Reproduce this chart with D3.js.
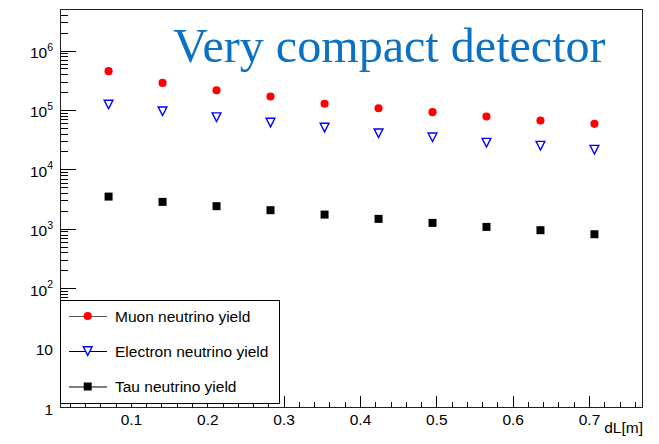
<!DOCTYPE html>
<html><head><meta charset="utf-8">
<script src="https://cdn.jsdelivr.net/npm/d3@7"></script>
<style>body{margin:0;background:#fff} svg{display:block}</style>
</head><body><svg id="c" width="659" height="444"></svg>
<script>
// ---- data ----
const dL = [0.0707,0.1414,0.2121,0.2828,0.3536,0.4243,0.4950,0.5657,0.6364,0.7071];
const muon = [450000,285000,215000,168000,127000,107000,91800,77400,66400,58300];
const electron = [124000,95500,75700,61400,50600,40700,34800,28200,25100,21500];
const tau = [3480,2835,2400,2055,1734,1466,1255,1075,946,809];
const seriesNames = ["Muon neutrino yield","Electron neutrino yield","Tau neutrino yield"];
const xTicks = [0.1,0.2,0.3,0.4,0.5,0.6,0.7];
const yTicks = [1,10,100,1e3,1e4,1e5,1e6];
const yLabelBase = ["1","10","10","10","10","10","10"];
const yLabelExp = ["","","2","3","4","5","6"];
const title = "Very compact detector";
const xTitle = "dL[m]";

// ---- layout ----
const L=60, R=643, T=9, B=407;
const svg = d3.select("#c");
const x = d3.scaleLinear().domain([0.00707,0.7707]).range([L,R]);
const y = d3.scaleLog().domain([1,5e6]).range([B,T]);
const font = "'Liberation Sans', Arial, Helvetica, sans-serif";

// minor ticks
const yMinor = [];
for (let d=0; d<7; d++) for (let m=2; m<10; m++){ const v=m*Math.pow(10,d); if (v<=5e6) yMinor.push(v); }
const xMinor = d3.range(0,39).map(i=>+(i*0.02).toFixed(2)).filter(v=>v>0.00707 && Math.round(v*100)%10!==0);

// y axis
const gy = svg.append("g").attr("transform",`translate(${L},0)`);
gy.call(d3.axisLeft(y).tickValues(yMinor).tickSize(-8).tickSizeOuter(0).tickFormat(""));
const gyM = svg.append("g").attr("transform",`translate(${L},0)`);
gyM.call(d3.axisLeft(y).tickValues(yTicks).tickSize(-16).tickSizeOuter(0).tickPadding(7).tickFormat(""));
gyM.selectAll(".tick text").each(function(d,i){
  const t=d3.select(this).attr("font-family",font).attr("font-size",15.5).attr("fill","#000").attr("dy",null).attr("y",7);
  t.append("tspan").text(yLabelBase[i]);
  if (yLabelExp[i]) t.append("tspan").attr("font-size",10.5).attr("dy",-7.5).text(yLabelExp[i]);
});

// x axis
const gx = svg.append("g").attr("transform",`translate(0,${B})`);
gx.call(d3.axisBottom(x).tickValues(xMinor).tickSize(-5.5).tickSizeOuter(0).tickFormat(""));
const gxM = svg.append("g").attr("transform",`translate(0,${B})`);
gxM.call(d3.axisBottom(x).tickValues(xTicks).tickSize(-11).tickSizeOuter(0).tickPadding(7).tickFormat(d3.format(".1f")));
gxM.selectAll(".tick text").attr("font-family",font).attr("font-size",15.5).attr("fill","#000");
svg.selectAll(".domain").remove();
svg.selectAll(".tick line").attr("stroke","#000").attr("shape-rendering","crispEdges");

// frame
svg.append("rect").attr("x",L+0.5).attr("y",T+0.5).attr("width",R-L-1).attr("height",B-T)
  .attr("fill","none").attr("stroke","#222").attr("shape-rendering","crispEdges");

// markers
const tri = "M-4.4,-4.2L4.4,-4.2L0,4.4Z";
const circ = d3.symbol().type(d3.symbolCircle).size(Math.PI*16.5);
const sq = d3.symbol().type(d3.symbolSquare).size(64);
const gm = svg.append("g");
gm.selectAll(".mu").data(muon).join("path").attr("d",circ())
  .attr("transform",(d,i)=>`translate(${x(dL[i])},${y(d)})`).attr("fill","#ff0000");
gm.selectAll(".el").data(electron).join("path").attr("d",tri)
  .attr("transform",(d,i)=>`translate(${x(dL[i])},${y(d)})`).attr("fill","none").attr("stroke","#0000ff").attr("stroke-width",1.4);
gm.selectAll(".ta").data(tau).join("path").attr("d",sq())
  .attr("transform",(d,i)=>`translate(${x(dL[i])},${y(d)})`).attr("fill","#000");

// title
svg.append("text").attr("x",173).attr("y",61.7).attr("font-family","'Liberation Serif','Times New Roman',serif")
  .attr("font-size",48.1).attr("fill","#0a72c4").text(title);

// x title
svg.append("text").attr("x",R).attr("y",433).attr("text-anchor","end").attr("font-family",font)
  .attr("font-size",15.5).attr("fill","#000").text(xTitle);

// legend
const lg = svg.append("g");
lg.append("rect").attr("x",L+0.5).attr("y",300.5).attr("width",219).attr("height",103)
  .attr("fill","#fff").attr("stroke","#000").attr("shape-rendering","crispEdges");
const rows=[316,351,386.5];
const lineCols=["#555","#000","#000"];
seriesNames.forEach((name,i)=>{
  const g=lg.append("g").attr("transform",`translate(0,${rows[i]})`);
  g.append("line").attr("x1",69).attr("x2",107).attr("y1",0.5).attr("y2",0.5).attr("stroke",lineCols[i]).attr("stroke-width",1);
  const mk=g.append("path").attr("transform","translate(87.7,0)");
  if(i===0) mk.attr("d",circ()).attr("fill","#ff0000");
  else if(i===1) mk.attr("d",tri).attr("fill","#fff").attr("stroke","#0000ff").attr("stroke-width",1.4);
  else mk.attr("d",sq()).attr("fill","#000");
  g.append("text").attr("x",115).attr("y",5.5).attr("font-family",font).attr("font-size",15.5).attr("fill","#000").text(name);
});
</script></body></html>
